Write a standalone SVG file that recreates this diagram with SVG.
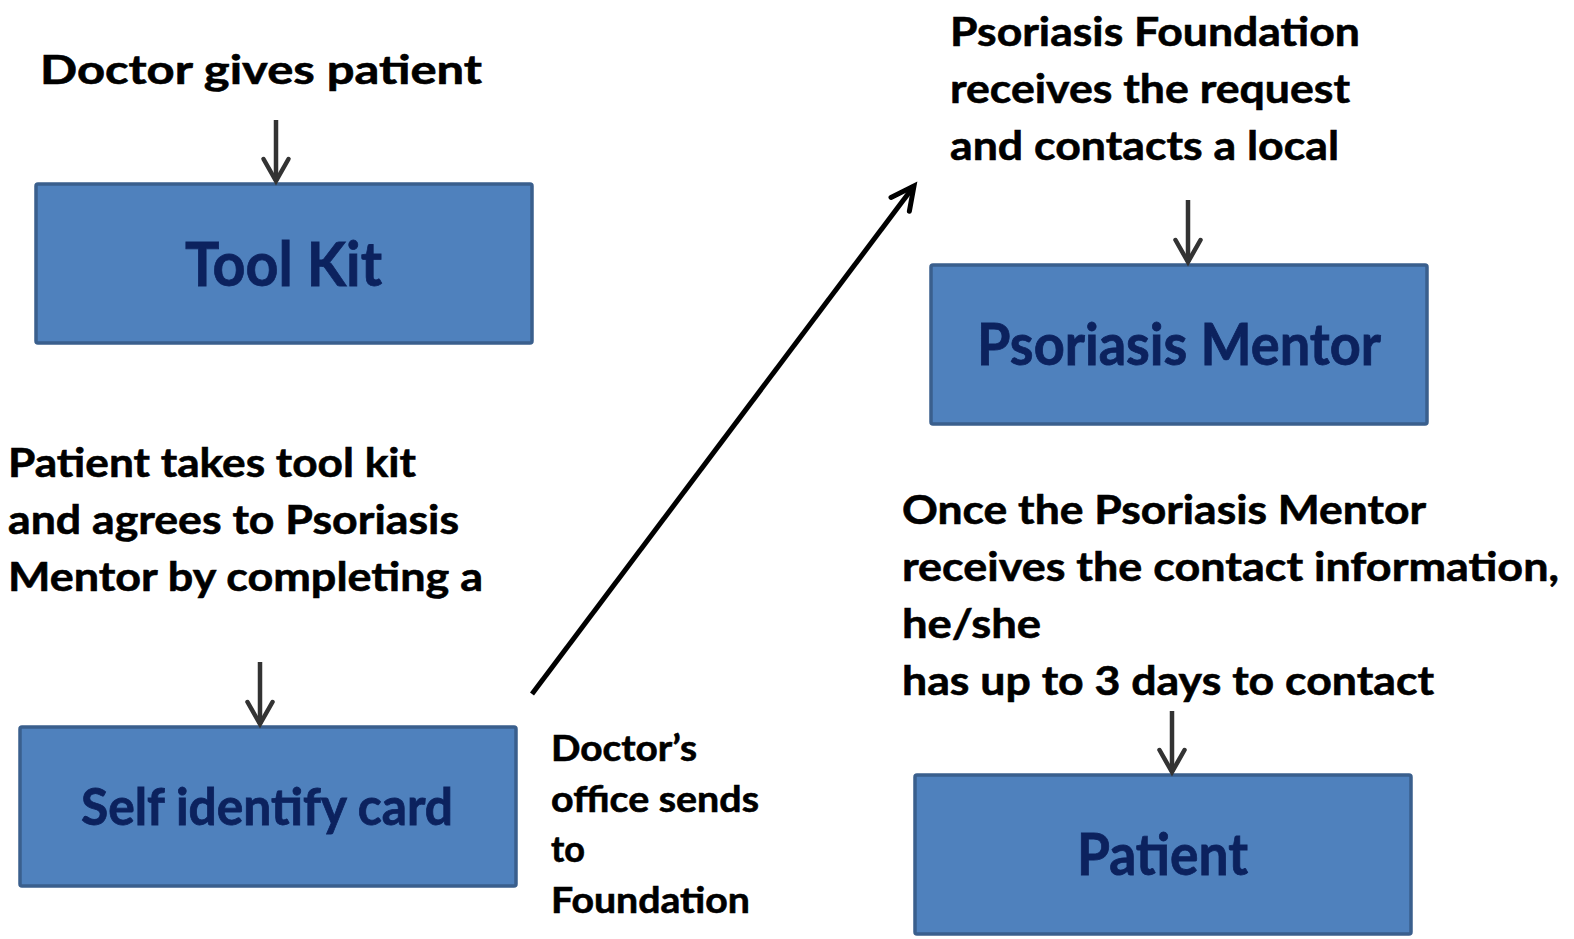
<svg xmlns="http://www.w3.org/2000/svg" width="1574" height="939" viewBox="0 0 1574 939">
  <style>
    .box { fill: #4f81bd; stroke: #3a5f8d; stroke-width: 3.5; }
    .boxlabel { font-family: Lato, "Open Sans", "Liberation Sans", sans-serif; font-weight: bold; fill: #0c225e; stroke: #0c225e; stroke-width: 0.8; }
    .note { font-family: Lato, "Open Sans", "Liberation Sans", sans-serif; font-weight: bold; fill: #000; stroke: #000; stroke-width: 0.6; font-size: 41px; }
    .small { font-size: 36px; }
    .down { stroke: #333; stroke-width: 4.5; fill: none; }
    .diag { stroke: #000; stroke-width: 5; fill: none; }
  </style>
  <defs>
    <marker id="headGray" markerUnits="userSpaceOnUse" viewBox="-30 -18 36 36" markerWidth="36" markerHeight="36" refX="0" refY="0" orient="auto" overflow="visible">
      <path d="M-22,-12.5 L0,0 L-22,12.5" fill="none" stroke="#333" stroke-width="4.5" stroke-linecap="round" stroke-linejoin="miter"/>
    </marker>
    <marker id="headBlack" markerUnits="userSpaceOnUse" viewBox="-30 -18 36 36" markerWidth="36" markerHeight="36" refX="0" refY="0" orient="auto" overflow="visible">
      <path d="M-23,-11.5 L0,0 L-23,11.5" fill="none" stroke="#000" stroke-width="5" stroke-linecap="round" stroke-linejoin="miter"/>
    </marker>
  </defs>

  <rect width="1574" height="939" fill="#fff"/>

  <!-- free-standing step descriptions -->
  <g id="notes">
    <text class="note" x="40" y="84" textLength="442" lengthAdjust="spacingAndGlyphs">Doctor gives patient</text>

    <text class="note" x="8" y="477" textLength="408" lengthAdjust="spacingAndGlyphs">Patient takes tool kit</text>
    <text class="note" x="8" y="534" textLength="451" lengthAdjust="spacingAndGlyphs">and agrees to Psoriasis</text>
    <text class="note" x="8" y="591" textLength="475" lengthAdjust="spacingAndGlyphs">Mentor by completing a</text>

    <text class="note small" x="551" y="761" textLength="146" lengthAdjust="spacingAndGlyphs">Doctor’s</text>
    <text class="note small" x="551" y="812" textLength="208" lengthAdjust="spacingAndGlyphs">office sends</text>
    <text class="note small" x="551" y="862" textLength="34" lengthAdjust="spacingAndGlyphs">to</text>
    <text class="note small" x="551" y="913" textLength="199" lengthAdjust="spacingAndGlyphs">Foundation</text>

    <text class="note" x="950" y="46" textLength="410" lengthAdjust="spacingAndGlyphs">Psoriasis Foundation</text>
    <text class="note" x="950" y="103" textLength="400" lengthAdjust="spacingAndGlyphs">receives the request</text>
    <text class="note" x="950" y="160" textLength="389" lengthAdjust="spacingAndGlyphs">and contacts a local</text>

    <text class="note" x="902" y="524" textLength="524" lengthAdjust="spacingAndGlyphs">Once the Psoriasis Mentor</text>
    <text class="note" x="902" y="581" textLength="657" lengthAdjust="spacingAndGlyphs">receives the contact information,</text>
    <text class="note" x="902" y="638" textLength="139" lengthAdjust="spacingAndGlyphs">he/she</text>
    <text class="note" x="902" y="695" textLength="532" lengthAdjust="spacingAndGlyphs">has up to 3 days to contact</text>
  </g>

  <!-- process boxes -->
  <g id="tool-kit">
    <rect class="box" x="36" y="184" width="496" height="159" rx="2"/>
    <text class="boxlabel" x="185" y="286" font-size="61" textLength="197" lengthAdjust="spacingAndGlyphs">Tool Kit</text>
  </g>
  <g id="self-identify-card">
    <rect class="box" x="20" y="727" width="496" height="159" rx="2"/>
    <text class="boxlabel" x="81" y="825" font-size="51" textLength="372" lengthAdjust="spacingAndGlyphs">Self identify card</text>
  </g>
  <g id="psoriasis-mentor">
    <rect class="box" x="931" y="265" width="496" height="159" rx="2"/>
    <text class="boxlabel" x="977" y="365" font-size="58" textLength="404" lengthAdjust="spacingAndGlyphs">Psoriasis Mentor</text>
  </g>
  <g id="patient">
    <rect class="box" x="915" y="775" width="496" height="159" rx="2"/>
    <text class="boxlabel" x="1077" y="875" font-size="57" textLength="171" lengthAdjust="spacingAndGlyphs">Patient</text>
  </g>

  <!-- connectors -->
  <g id="connectors">
    <line class="down" x1="276" y1="120" x2="276" y2="181" marker-end="url(#headGray)"/>
    <line class="down" x1="260" y1="662" x2="260" y2="724" marker-end="url(#headGray)"/>
    <line class="down" x1="1188" y1="200" x2="1188" y2="262" marker-end="url(#headGray)"/>
    <line class="down" x1="1172" y1="711" x2="1172" y2="772" marker-end="url(#headGray)"/>
    <line class="diag" x1="532" y1="694" x2="914" y2="186" marker-end="url(#headBlack)"/>
  </g>
</svg>
